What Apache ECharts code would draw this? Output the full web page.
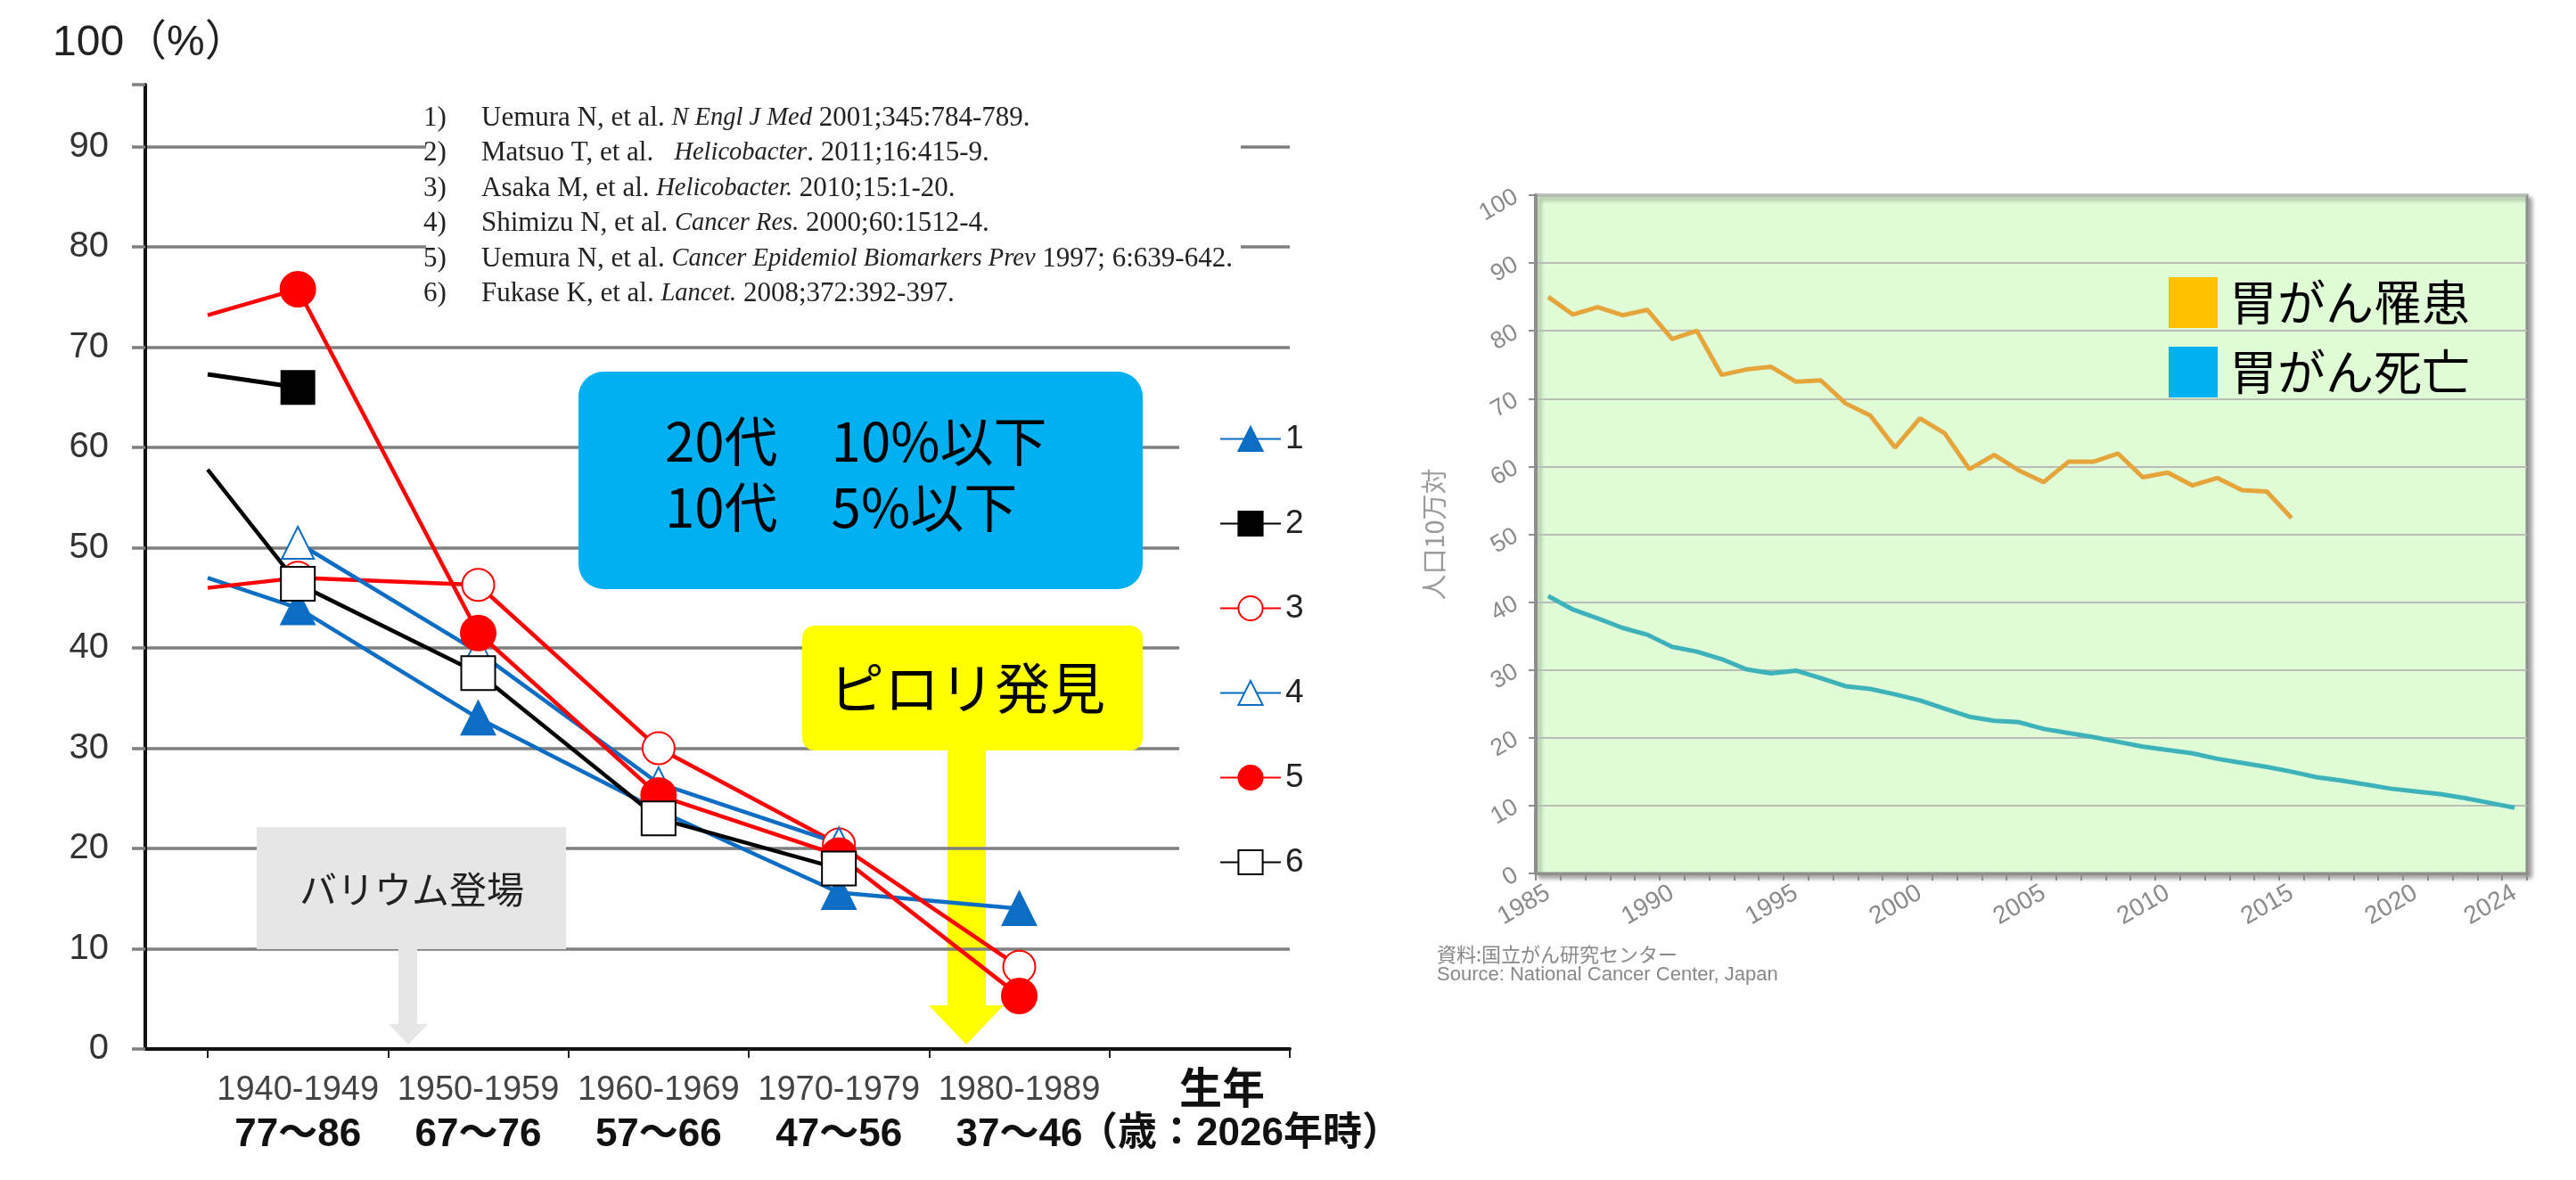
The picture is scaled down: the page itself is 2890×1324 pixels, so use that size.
<!DOCTYPE html>
<html>
<head>
<meta charset="utf-8">
<script src="https://cdn.jsdelivr.net/npm/echarts@6/dist/echarts.min.js"></script>
<style>
  html, body { margin: 0; padding: 0; background: #fff; }
  #main { width: 2890px; height: 1324px; }
</style>
</head>
<body>
<div id="main"></div>
<script>
// ---- left chart: infection rate by birth cohort (%)
var cohorts = ['1940-1949', '1950-1959', '1960-1969', '1970-1979', '1980-1989', ''];
var ages = ['77〜86', '67〜76', '57〜66', '47〜56', '37〜46', ''];
// first value = start of the line at the left edge of the first cohort, then one value per cohort
var xPos = [-0.5, 0, 1, 2, 3, 4];
var study1 = [47, 44, 33, 23.8, 15.6, 14];
var study2 = [67.3, 66, null, null, null, null];
var study3 = [46, 47, 46.3, 30, 20.4, 8.2];
var study4 = [null, 50.5, 39.6, 26.5, 20.5, null];
var study5 = [73.2, 75.8, 41.5, 25.3, 19.3, 5.3];
var study6 = [57.8, 46.4, 37.5, 23, 18, null];
var yTicksLeft = [0, 10, 20, 30, 40, 50, 60, 70, 80, 90];

// ---- right chart: stomach cancer incidence / mortality per 100,000
var years = [];
for (var y = 1985; y <= 2024; y++) years.push(String(y));
var incidence = [85.0, 82.4, 83.5, 82.3, 83.1, 78.8, 80.0, 73.5, 74.3, 74.7,
  72.5, 72.7, 69.3, 67.5, 62.8, 67.1, 64.9, 59.6, 61.7, 59.4,
  57.7, 60.7, 60.7, 61.9, 58.4, 59.1, 57.2, 58.3, 56.5, 56.3, 52.4];
var mortality = [40.9, 38.9, 37.6, 36.2, 35.2, 33.4, 32.7, 31.6, 30.1, 29.5,
  29.9, 28.8, 27.6, 27.2, 26.4, 25.5, 24.3, 23.1, 22.5, 22.3,
  21.3, 20.7, 20.1, 19.4, 18.7, 18.2, 17.7, 16.9, 16.3, 15.7,
  15.0, 14.2, 13.7, 13.1, 12.5, 12.1, 11.7, 11.1, 10.4, 9.7];

var refs = [
  ['Uemura N, et al. ', 'N Engl J Med', ' 2001;345:784-789.'],
  ['Matsuo T, et al.   ', 'Helicobacter', '. 2011;16:415-9.'],
  ['Asaka M, et al. ', 'Helicobacter.', ' 2010;15:1-20.'],
  ['Shimizu N, et al. ', 'Cancer Res.', ' 2000;60:1512-4.'],
  ['Uemura N, et al. ', 'Cancer Epidemiol Biomarkers Prev', ' 1997; 6:639-642.'],
  ['Fukase K, et al. ', 'Lancet.', ' 2008;372:392-397.']
];

var SANS = '"Liberation Sans", "Noto Sans CJK JP", sans-serif';
var JP = '"Noto Sans CJK JP", sans-serif';
var SERIF = '"Liberation Serif", serif';
var YMAX = 96.2;

function toData(vals) {
  var out = [];
  vals.forEach(function (v, i) {
    if (v == null) return;
    if (i === 0) out.push({ value: [xPos[i], v], symbol: 'none' });
    else out.push([xPos[i], v]);
  });
  return out;
}

function study(name, vals, color, symbol, size, width) {
  return {
    name: name, type: 'line', xAxisIndex: 0, yAxisIndex: 0,
    data: toData(vals),
    symbol: symbol, symbolSize: size,
    lineStyle: { color: color, width: width },
    itemStyle: { color: color, borderColor: color, borderWidth: 3 },
    emphasis: { disabled: true }
  };
}

var gridColors = yTicksLeft.map(function () { return '#7f7f7f'; });
gridColors.push('rgba(0,0,0,0)');

var refGraphics = refs.map(function (r, i) {
  return {
    type: 'text', left: 475, top: 117 + i * 39.5, z: 5,
    style: {
      text: '{n|' + (i + 1) + ')}{t|' + r[0] + '}{i|' + r[1] + '}{t|' + r[2] + '}',
      rich: {
        n: { fontFamily: SERIF, fontSize: 31, fill: '#222', width: 65 },
        t: { fontFamily: SERIF, fontSize: 31, fill: '#222' },
        i: { fontFamily: SERIF, fontSize: 28.5, fill: '#222', fontStyle: 'italic' }
      }
    }
  };
});

var option = {
  animation: false,
  backgroundColor: '#ffffff',
  grid: [
    { left: 163, top: 95, width: 1284, height: 1082 },
    { left: 233, top: 95, width: 1214, height: 1082 },
    {
      left: 1723, top: 219, width: 1112, height: 761, show: true,
      backgroundColor: '#e0fcd7', borderColor: '#8e8e8e', borderWidth: 3,
      shadowColor: 'rgba(0,0,0,0.35)', shadowBlur: 5, shadowOffsetX: 4, shadowOffsetY: 4
    }
  ],
  xAxis: [
    {
      gridIndex: 0, type: 'value', min: -0.846, max: 5.5,
      axisLine: { show: true, onZero: false, lineStyle: { color: '#111', width: 4 } },
      axisTick: { show: false }, axisLabel: { show: false }, splitLine: { show: false }
    },
    {
      gridIndex: 1, type: 'category', data: cohorts, boundaryGap: true,
      axisLine: { show: false },
      axisTick: { show: true, length: 10, lineStyle: { color: '#222', width: 2 } },
      axisLabel: {
        margin: 22,
        formatter: function (v, i) {
          return v ? '{y|' + v + '}\n{a|' + ages[i] + '}' : '';
        },
        rich: {
          y: { fontFamily: SANS, fontSize: 38, color: '#444', lineHeight: 50 },
          a: { fontFamily: SANS, fontSize: 44, fontWeight: 'bold', color: '#111', lineHeight: 50 }
        }
      }
    },
    {
      gridIndex: 2, type: 'category', data: years, boundaryGap: true,
      axisLine: { show: true, lineStyle: { color: '#8e8e8e', width: 3 } },
      axisTick: { show: true, interval: 0, length: 8, lineStyle: { color: '#8e8e8e', width: 2 } },
      axisLabel: {
        interval: function (i, v) { var n = +v; return n % 5 === 0 || n === 2024; },
        rotate: 30, margin: 20, fontFamily: SANS, fontSize: 28, color: '#8a8a8a'
      },
      splitLine: { show: false }
    }
  ],
  yAxis: [
    {
      gridIndex: 0, type: 'value', min: 0, max: YMAX, interval: 10,
      axisLine: { show: true, onZero: false, lineStyle: { color: '#111', width: 4 } },
      axisTick: { show: true, inside: false, length: 15, lineStyle: { color: '#7f7f7f', width: 3.5 } },
      axisLabel: {
        margin: 41, fontFamily: SANS, fontSize: 40, color: '#333',
        formatter: function (v) { return v % 10 === 0 ? String(v) : ''; }
      },
      splitLine: { show: true, lineStyle: { color: gridColors, width: 3.5 } }
    },
    { gridIndex: 1, type: 'value', min: 0, max: YMAX, show: false },
    {
      gridIndex: 2, type: 'value', min: 0, max: 100, interval: 10,
      name: '人口10万対', nameLocation: 'middle', nameRotate: 90, nameGap: 100,
      nameTextStyle: { fontFamily: JP, fontSize: 29, color: '#9a9a9a' },
      axisLine: { show: true, lineStyle: { color: '#8e8e8e', width: 4 } },
      axisTick: { show: true, length: 8, lineStyle: { color: '#8e8e8e', width: 2 } },
      axisLabel: { rotate: 30, margin: 22, fontFamily: SANS, fontSize: 27, color: '#8a8a8a' },
      splitLine: { show: true, lineStyle: { color: '#b9bdb7', width: 2 } }
    }
  ],
  legend: [
    {
      data: ['1', '2', '3', '4', '5', '6'],
      orient: 'vertical', left: 1368, top: 474, padding: 0,
      itemWidth: 68, itemHeight: 34, itemGap: 58,
      textStyle: { fontFamily: SANS, fontSize: 37, color: '#222' },
      selectedMode: false
    },
    {
      data: [
        { name: '胃がん罹患', itemStyle: { color: '#FFC000' } },
        { name: '胃がん死亡', itemStyle: { color: '#00B0F0' } }
      ],
      icon: 'rect', orient: 'vertical', left: 2433, top: 311, padding: 0,
      itemWidth: 55, itemHeight: 57, itemGap: 21,
      itemStyle: { borderWidth: 0 },
      textStyle: { fontFamily: JP, fontSize: 54, color: '#000', padding: [0, 0, 0, 8] },
      selectedMode: false
    }
  ],
  series: [
    study('1', study1, '#0B6DC3', 'triangle', 36, 4.5),
    study('2', study2, '#000000', 'rect', 36, 5),
    study('3', study3, '#FF0000', 'emptyCircle', 36, 4.5),
    study('4', study4, '#0B6DC3', 'emptyTriangle', 36, 4.5),
    study('5', study5, '#FF0000', 'circle', 38, 4.5),
    study('6', study6, '#000000', 'emptyRect', 38, 4.5),
    {
      name: '胃がん罹患', type: 'line', xAxisIndex: 2, yAxisIndex: 2,
      data: incidence, symbol: 'none',
      lineStyle: { color: '#E5A53A', width: 5 }, itemStyle: { color: '#E5A53A' }
    },
    {
      name: '胃がん死亡', type: 'line', xAxisIndex: 2, yAxisIndex: 2,
      data: mortality, symbol: 'none',
      lineStyle: { color: '#3DB2BA', width: 5 }, itemStyle: { color: '#3DB2BA' }
    }
  ],
  graphic: [
    { type: 'text', left: 59, top: 25, z: 5,
      style: { text: '100（%）', fontFamily: SANS, fontSize: 48, fill: '#222' } },
    // white patches behind references and legend
    { type: 'rect', shape: { x: 478, y: 108, width: 914, height: 250 }, style: { fill: '#fff' }, z: 1 },
    { type: 'rect', shape: { x: 1323, y: 445, width: 140, height: 555 }, style: { fill: '#fff' }, z: 1 },
    // blue note
    { type: 'rect', shape: { x: 649, y: 417, width: 633, height: 244, r: 28 }, style: { fill: '#00B0F0' }, z: 3 },
    { type: 'text', left: 746, top: 465, z: 5,
      style: { text: '20代　10%以下', fontFamily: JP, fontSize: 60, fill: '#000' } },
    { type: 'text', left: 746, top: 539, z: 5,
      style: { text: '10代　5%以下', fontFamily: JP, fontSize: 60, fill: '#000' } },
    // yellow note + arrow
    { type: 'rect', shape: { x: 900, y: 702, width: 382, height: 140, r: 14 }, style: { fill: '#FFFF00' }, z: 3 },
    { type: 'text', x: 1085, y: 772, z: 5,
      style: { text: 'ピロリ発見', fontFamily: JP, fontSize: 62, fill: '#000', align: 'center', verticalAlign: 'middle' } },
    { type: 'polygon', z: -1,
      shape: { points: [[1063, 842], [1106, 842], [1106, 1128], [1126, 1128], [1084, 1172], [1042, 1128], [1063, 1128]] },
      style: { fill: '#FFFF00' } },
    // grey note + arrow
    { type: 'rect', shape: { x: 288, y: 928, width: 347, height: 137 }, style: { fill: '#E6E6E6' }, z: 1 },
    { type: 'text', x: 462, y: 998, z: 5,
      style: { text: 'バリウム登場', fontFamily: JP, fontSize: 42, fill: '#222', align: 'center', verticalAlign: 'middle' } },
    { type: 'polygon', z: 1,
      shape: { points: [[447, 1065], [468, 1065], [468, 1149], [480, 1149], [458, 1172], [436, 1149], [447, 1149]] },
      style: { fill: '#E6E6E6' } },
    // axis captions
    { type: 'text', x: 1371, y: 1220, z: 5,
      style: { text: '生年', fontFamily: JP, fontSize: 48, fontWeight: 'bold', fill: '#111', align: 'center', verticalAlign: 'middle' } },
    { type: 'text', x: 1210, y: 1273, z: 5,
      style: { text: '（歳：2026年時）', fontFamily: SANS, fontSize: 44, fontWeight: 'bold', fill: '#111', align: 'left', verticalAlign: 'middle' } },
    // source of right chart
    { type: 'text', left: 1612, top: 1060, z: 5,
      style: { text: '資料:国立がん研究センター', fontFamily: JP, fontSize: 22, fill: '#888' } },
    { type: 'text', left: 1612, top: 1083, z: 5,
      style: { text: 'Source: National Cancer Center, Japan', fontFamily: SANS, fontSize: 22, fill: '#888' } }
  ].concat(refGraphics)
};

var myChart = echarts.init(document.getElementById('main'));
myChart.setOption(option);
</script>
</body>
</html>
